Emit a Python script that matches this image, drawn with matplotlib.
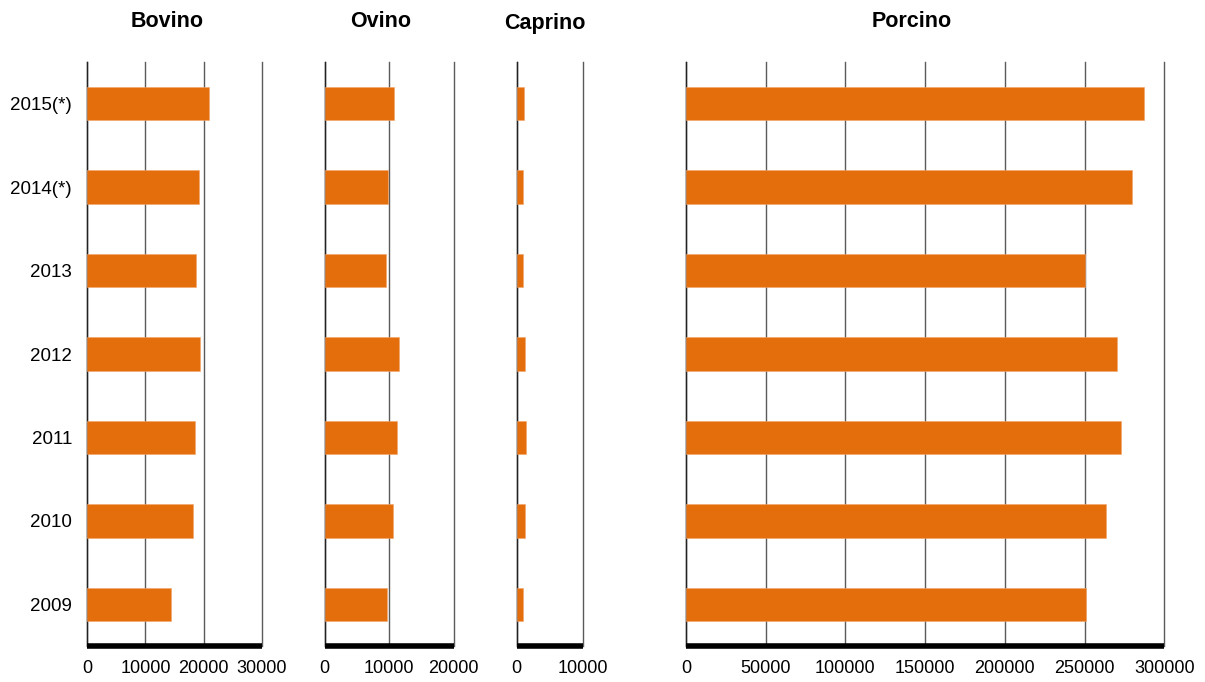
import matplotlib
matplotlib.use("Agg")
import matplotlib.pyplot as plt
import numpy as np

years = ['2015(*)', '2014(*)', '2013', '2012', '2011', '2010', '2009']
bovino = [20900, 19150, 18750, 19450, 18600, 18250, 14400]
ovino = [10800, 9750, 9500, 11500, 11150, 10550, 9600]
caprino = [1050, 900, 1000, 1250, 1350, 1200, 1000]
porcino = [287000, 279700, 250500, 270300, 273000, 263200, 250600]

titles = ['Bovino', 'Ovino', 'Caprino', 'Porcino']
series = [bovino, ovino, caprino, porcino]
xmax = [30000, 20000, 10000, 300000]
xstep = [10000, 10000, 10000, 50000]

plt.rcParams['font.family'] = ['Liberation Sans', 'DejaVu Sans']

W, H = 1205, 682
fig = plt.figure(figsize=(W / 100, H / 100), dpi=100)

# pixel layout: (left, right)
lefts_px = [(87.3, 261.7), (324.7, 453.7), (516.7, 583.3), (686.0, 1164.3)]
top_px, bot_px = 62.0, 646.0
title_pos = [(166.7, 26.7), (381.0, 27.3), (545.0, 29.3), (911.7, 26.7)]

color = '#E56E0C'
y = np.arange(len(years))

for i, (vals, t) in enumerate(zip(series, titles)):
    l, r = lefts_px[i]
    ax = fig.add_axes([l / W, 1 - bot_px / H, (r - l) / W, (bot_px - top_px) / H])
    ax.barh(y, vals, height=0.4, color=color, edgecolor='#F2A46A', linewidth=0.4, zorder=3)
    ax.set_xlim(0, xmax[i])
    ax.set_ylim(len(years) - 0.5, -0.5)
    ticks = np.arange(0, xmax[i] + 1, xstep[i])
    ax.set_xticks(ticks)
    ax.set_xticklabels([str(int(v)) for v in ticks], fontsize=13)
    ax.tick_params(axis='x', length=0, pad=10)
    if i == 0:
        ax.set_yticks(y)
        ax.set_yticklabels(years, fontsize=13.5)
        ax.tick_params(axis='y', length=0, pad=11)
    else:
        ax.set_yticks([])
    ax.grid(axis='x', color='#5a5a5a', linewidth=1.0, zorder=0)
    for gl in ax.get_xgridlines():
        gl.set_clip_on(False)
    ax.set_axisbelow(True)
    for s in ['top', 'right']:
        ax.spines[s].set_visible(False)
    ax.spines['left'].set_color('#222222')
    ax.spines['left'].set_linewidth(1.0)
    ax.spines['bottom'].set_color('black')
    ax.spines['bottom'].set_linewidth(4.0)
    ax.spines['bottom'].set_capstyle('butt')
    tx, ty = title_pos[i]
    fig.text(tx / W, 1 - ty / H, t, ha='center', va='baseline',
             fontsize=15.5, fontweight='bold')

fig.savefig('out.png', dpi=100, facecolor='white')
